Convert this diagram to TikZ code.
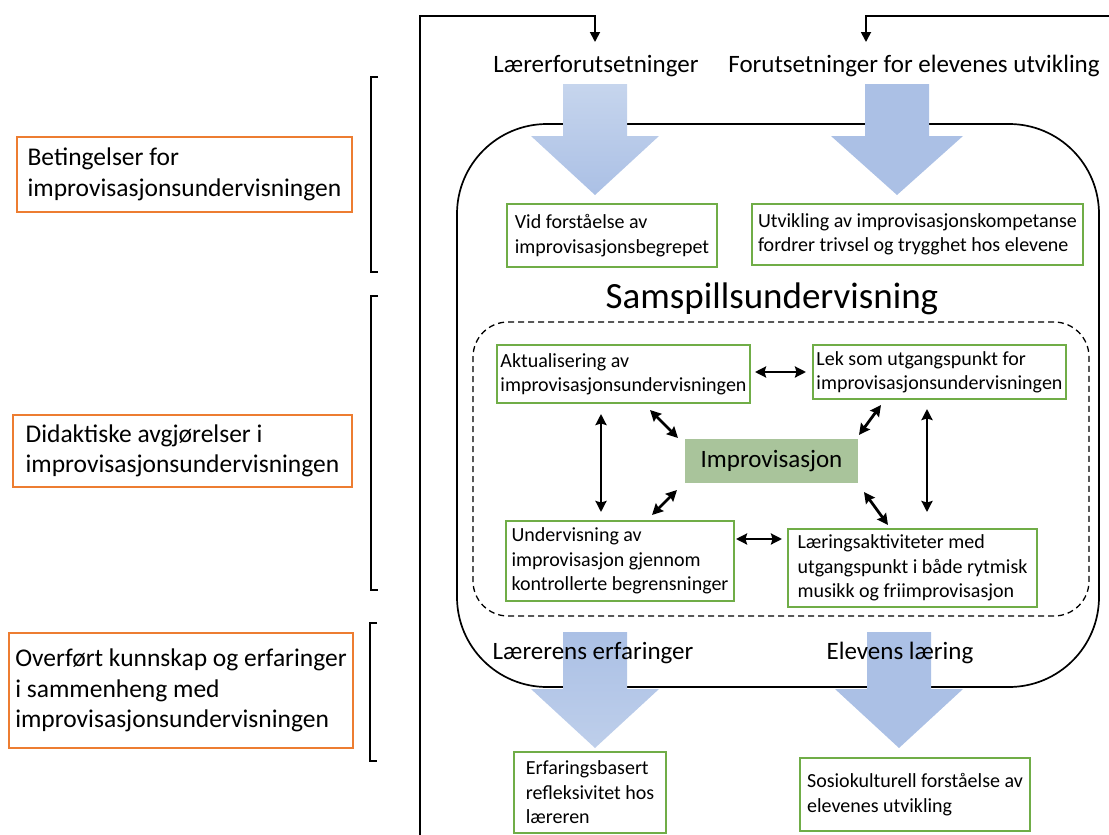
\documentclass[tikz,border=0pt]{standalone}
\usepackage{fontspec}
\setmainfont{Carlito}
\usetikzlibrary{arrows.meta,calc}
\definecolor{gborder}{HTML}{70AD47}
\definecolor{oborder}{HTML}{ED7D31}
\definecolor{impfill}{HTML}{A9C49B}
\definecolor{arrowblue}{HTML}{ABC0E5}
\definecolor{arrowlight}{HTML}{C6D5ED}
\begin{document}
\begin{tikzpicture}[x=1pt,y=-1pt,
  gbox/.style={draw=gborder, line width=1.6pt, align=left, inner sep=0pt, font=\fontsize{20}{24.4}\selectfont},
  obox/.style={draw=oborder, line width=1.6pt, align=left, inner sep=0pt, font=\fontsize{25.5}{30.5}\selectfont},
  hdr/.style={font=\fontsize{25}{30}\selectfont, inner sep=0pt, anchor=base},
  dbl/.style={{Stealth[length=11pt,width=11pt,inset=1.5pt]}-{Stealth[length=11pt,width=11pt,inset=1.5pt]}, line width=2.8pt},
  fb/.style={-{Triangle[length=10pt,width=10pt]}, line width=1.8pt},
  brk/.style={line width=1.5pt},
  bluearrow/.style={fill=arrowblue, draw=none}
]
\useasboundingbox (0,0) rectangle (1109,835);

% main rounded container
\node[draw, line width=1.7pt, rounded corners=90pt, minimum width=642pt, minimum height=563pt, inner sep=0pt] (samspill) at (778,405.5) {};

% top block arrows
\path[top color=arrowlight, bottom color=arrowblue, draw=none]
  (563,84) -- (627,84) -- (627,136) -- (659,136) -- (595,195) -- (531,136) -- (563,136) -- cycle;
\path[bluearrow]
  (865,84) -- (929,84) -- (929,136) -- (963,136) -- (897,195) -- (831,136) -- (865,136) -- cycle;

% header labels
\node[hdr] (lf) at (596,72) {Lærerforutsetninger};
\node[hdr] (fe) at (914,72) {Forutsetninger for elevenes utvikling};

% feedback lines
\coordinate (fbL) at (420,835);
\coordinate (fbLtop) at (595,16);
\coordinate (fbLend) at (595,42);
\coordinate (fbR) at (1109,16);
\coordinate (fbRtop) at (866,16);
\coordinate (fbRend) at (866,42);
\draw[fb] (fbL) |- (fbLtop) -- (fbLend);
\draw[fb] (fbR) -- (fbRtop) -- (fbRend);

% upper boxes
\node[gbox, minimum width=210pt, minimum height=63pt] (vid) at (612,235.5) {Vid forståelse av\\improvisasjonsbegrepet};
\node[gbox, minimum width=331pt, minimum height=61pt] (utv) at (917.5,234.5) {Utvikling av improvisasjonskompetanse\\fordrer trivsel og trygghet hos elevene};

\node[font=\fontsize{37}{44}\selectfont, inner sep=0pt, anchor=base] (title) at (772,308) {Samspillsundervisning};

% dashed container
\node[draw, dashed, line width=1.3pt, dash pattern=on 6pt off 4pt, rounded corners=35pt, minimum width=616pt, minimum height=294pt, inner sep=0pt] (dash) at (781,469) {};

% inner boxes
\node[gbox, minimum width=253pt, minimum height=58pt] (akt) at (623.5,374) {Aktualisering av\\improvisasjonsundervisningen};
\node[gbox, minimum width=253pt, minimum height=54pt] (lek) at (939.5,372) {Lek som utgangspunkt for\\improvisasjonsundervisningen};
\node[fill=impfill, minimum width=173pt, minimum height=44pt, inner sep=0pt, font=\fontsize{25}{30}\selectfont] (imp) at (771.5,461) {Improvisasjon};
\node[gbox, minimum width=228pt, minimum height=80pt] (und) at (620,561) {Undervisning av\\improvisasjon gjennom\\kontrollerte begrensninger};
\node[gbox, minimum width=249pt, minimum height=78pt] (laer) at (912.5,568) {Læringsaktiviteter med\\utgangspunkt i både rytmisk\\musikk og friimprovisasjon};

% double arrows
\coordinate (h1a) at (755,372); \coordinate (h1b) at (806,372);
\coordinate (h2a) at (736,539); \coordinate (h2b) at (782,539);
\coordinate (v1a) at (601,414); \coordinate (v1b) at (601,512);
\coordinate (v2a) at (927,409); \coordinate (v2b) at (927,512);
\coordinate (d1a) at (650,410); \coordinate (d1b) at (678,438);
\coordinate (d2a) at (881,405); \coordinate (d2b) at (859,435);
\coordinate (d3a) at (652,515); \coordinate (d3b) at (677,490);
\coordinate (d4a) at (864,492); \coordinate (d4b) at (888,525);
\draw[dbl] (h1a) -- (h1b);
\draw[dbl] (h2a) -- (h2b);
\draw[dbl] (v1a) -- (v1b);
\draw[dbl] (v2a) -- (v2b);
\draw[dbl] (d1a) -- (d1b);
\draw[dbl] (d2a) -- (d2b);
\draw[dbl] (d3a) -- (d3b);
\draw[dbl] (d4a) -- (d4b);

% bottom block arrows
\path[top color=arrowblue, bottom color=arrowlight!70!arrowblue, draw=none]
  (563,632) -- (627,632) -- (627,689) -- (659,689) -- (595,748) -- (531,689) -- (563,689) -- cycle;
\path[bluearrow]
  (867,632) -- (931,632) -- (931,689) -- (963,689) -- (899,748) -- (835,689) -- (867,689) -- cycle;

\node[hdr] (le) at (593,659) {Lærerens erfaringer};
\node[hdr] (el) at (900,659) {Elevens læring};

% bottom boxes
\node[gbox, minimum width=152pt, minimum height=81pt] (erf) at (590,792.5) {Erfaringsbasert\\refleksivitet hos\\læreren};
\node[gbox, minimum width=230pt, minimum height=73pt] (sos) at (915,794.5) {Sosiokulturell forståelse av\\elevenes utvikling};

% left labels
\node[obox, minimum width=335pt, minimum height=75pt] (bet) at (184.5,174.5) {Betingelser for\\improvisasjonsundervisningen};
\node[obox, minimum width=339pt, minimum height=72pt] (did) at (182.5,451) {Didaktiske avgjørelser i\\improvisasjonsundervisningen};
\node[obox, minimum width=344pt, minimum height=115pt] (ove) at (181,690.5) {Overført kunnskap og erfaringer\\i sammenheng med\\improvisasjonsundervisningen};

% brackets
\draw[brk] (378,77) -- (371,77) -- (371,272) -- (378,272);
\draw[brk] (378,296) -- (371,296) -- (371,590) -- (378,590);
\draw[brk] (377,623) -- (370,623) -- (370,761) -- (377,761);
\end{tikzpicture}
\end{document}
